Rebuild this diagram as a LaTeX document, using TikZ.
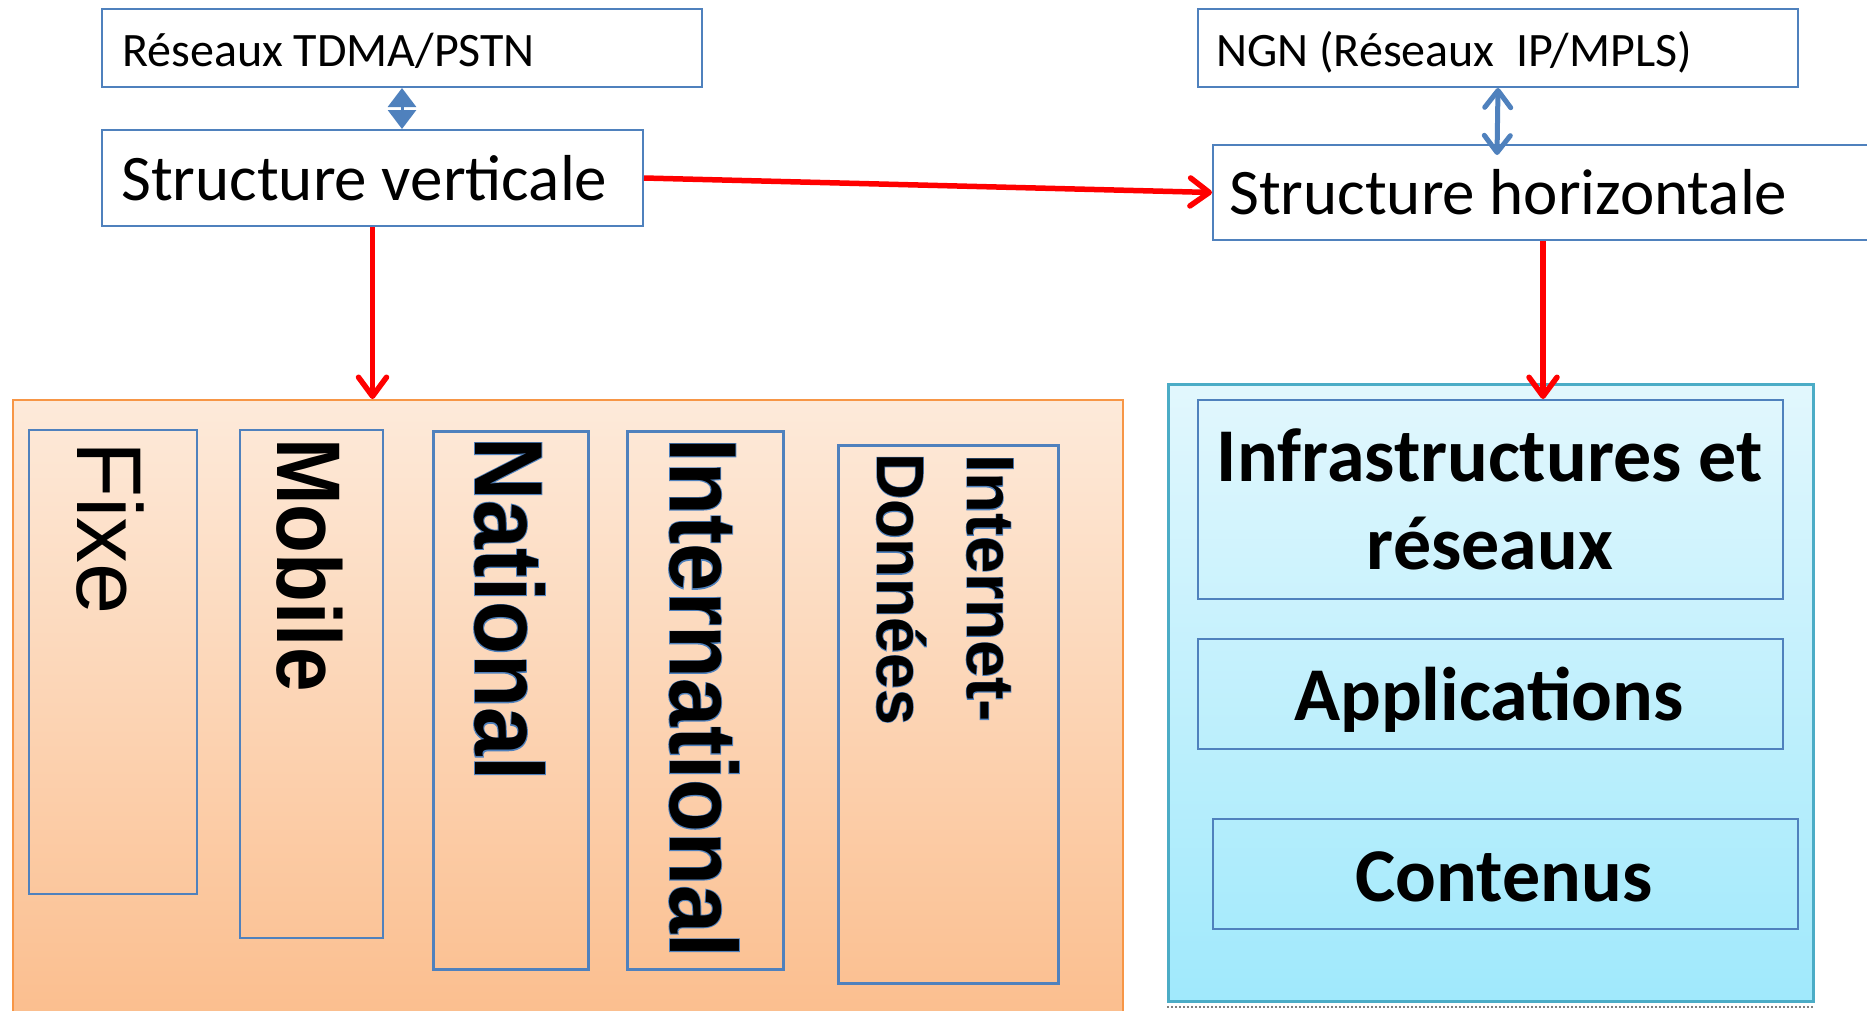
\documentclass[tikz,border=0pt]{standalone}
\usepackage{fontspec}
\usepackage{graphicx}
\setmainfont{Carlito}
\newfontfamily\arialfont{Liberation Sans}
\newfontfamily\arialhalo{Liberation Sans}[BoldFeatures={FakeBold=2}]
\usetikzlibrary{arrows.meta}
\definecolor{boxblue}{RGB}{79,129,189}
\definecolor{orangetop}{RGB}{253,234,218}
\definecolor{orangebot}{RGB}{251,190,142}
\definecolor{orangeedge}{RGB}{247,150,70}
\definecolor{cyantop}{RGB}{226,247,253}
\definecolor{cyanbot}{RGB}{160,233,252}
\definecolor{cyanedge}{RGB}{75,172,198}
\newcommand\halotext[1]{\rlap{\color{boxblue}\arialhalo\bfseries #1}{\arialfont\bfseries #1}}
\begin{document}
\begin{tikzpicture}[x=1pt,y=-1pt,
  bx/.style={draw=boxblue, line width=2pt, inner sep=0pt, anchor=north west},
  thinbx/.style={bx, line width=1.5pt},
  thickbx/.style={bx, line width=3pt},
  txt/.style={inner sep=0pt, text=black},
  vtxt/.style={inner sep=0pt, text=black, rotate=-90, anchor=base west},
  redarr/.style={draw=red, line width=5.5pt, -{Straight Barb[length=19pt,width=28pt,round]}},
  bluearr/.style={draw=boxblue, line width=5pt, {Straight Barb[length=17pt,width=26pt,round]}-{Straight Barb[length=17pt,width=26pt,round]}},
  smallarr/.style={draw=boxblue, line width=3pt, {Triangle[length=19pt,width=28pt]}-{Triangle[length=19pt,width=28pt]}}
]
\useasboundingbox (0,0) rectangle (1867,1010);
\clip (0,0) rectangle (1867,1010);
\fill[white] (0,0) rectangle (1867,1010);

% big containers
\node[bx, draw=orangeedge, top color=orangetop, bottom color=orangebot, minimum width=1110pt, minimum height=620pt] (orange) at (12,399) {};
\node[bx, draw=cyanedge, line width=2.5pt, top color=cyantop, bottom color=cyanbot, minimum width=645pt, minimum height=617pt] (cyan) at (1167,383) {};
\draw[gray, dotted, line width=2pt] ([yshift=-4pt]cyan.south west) -- ([yshift=-4pt]cyan.south east);

% top boxes
\node[bx, minimum width=600pt, minimum height=78pt] (tdma) at (101,8) {};
\node[bx, minimum width=541pt, minimum height=96pt] (sv) at (101,129) {};
\node[bx, minimum width=600pt, minimum height=78pt] (ngn) at (1197,8) {};
\node[bx, minimum width=660pt, minimum height=95pt] (sh) at (1212,144) {};

\node[txt, anchor=base west, font=\fontsize{48}{58}\selectfont] (tdmaT) at (122,66) {Réseaux TDMA/PSTN};
\node[txt, anchor=base west, font=\fontsize{48}{58}\selectfont] (ngnT) at (1216,66) {NGN (Réseaux\ \ IP/MPLS)};
\node[txt, anchor=base west, font=\fontsize{65}{78}\selectfont] (svT) at (121,200) {Structure verticale};
\node[txt, anchor=base west, font=\fontsize{65}{78}\selectfont] (shT) at (1229,214) {Structure horizontale};

% left columns
\node[thinbx, minimum width=168pt, minimum height=464pt] (fixe) at (28,429) {};
\node[thinbx, minimum width=143pt, minimum height=508pt] (mobile) at (239,429) {};
\node[thickbx, minimum width=155pt, minimum height=538pt] (national) at (432,430) {};
\node[thickbx, minimum width=156pt, minimum height=538pt] (intl) at (626,430) {};
\node[thickbx, minimum width=220pt, minimum height=538pt] (inet) at (837,444) {};

\node[vtxt, font=\arialfont\fontsize{92}{100}\selectfont] (fixeT) at (77,441) {Fixe};
\node[vtxt, font=\arialfont\bfseries\fontsize{80}{90}\selectfont] (mobileT) at (277,438) {\scalebox{1}[1.13]{Mobile}};
\node[vtxt, font=\fontsize{87}{95}\selectfont] (nationalT) at (475,437) {\scalebox{1}[1.11]{\halotext{National}}};
\node[vtxt, font=\fontsize{86.5}{95}\selectfont] (intlT) at (670,438) {\scalebox{1}[1.1]{\halotext{International}}};
\node[vtxt, font=\fontsize{67}{80}\selectfont] (inetT) at (967,454) {\halotext{Internet-}};
\node[vtxt, font=\fontsize{67}{80}\selectfont] (donT) at (877,453) {\scalebox{0.96}[1]{\halotext{Données}}};

% right layers
\node[bx, minimum width=585pt, minimum height=199pt] (infra) at (1197,399) {};
\node[bx, minimum width=585pt, minimum height=110pt] (apps) at (1197,638) {};
\node[bx, minimum width=585pt, minimum height=110pt] (cont) at (1212,818) {};

\node[txt, anchor=base, font=\bfseries\fontsize{76}{88}\selectfont] (infraT) at (1490,481) {Infrastructures et};
\node[txt, anchor=base, font=\bfseries\fontsize{76}{88}\selectfont] (infraT2) at (1490,569) {réseaux};
\node[txt, anchor=base, font=\bfseries\fontsize{76}{88}\selectfont] (appsT) at (1489,720) {Applications};
\node[txt, anchor=base, font=\bfseries\fontsize{76}{88}\selectfont] (contT) at (1504,901) {Contenus};

% connectors
\coordinate (shin) at (1497,155);
\draw[smallarr] (tdma.south) -- (tdma.south |- sv.north);
\draw[bluearr] (ngn.south) -- (shin);
\draw[redarr] (sv.east) -- (sh.west);
\draw[redarr] (sv.south) -- (sv.south |- orange.north);
\draw[redarr] (sh.south) -- (sh.south |- infra.north);
\end{tikzpicture}
\end{document}
